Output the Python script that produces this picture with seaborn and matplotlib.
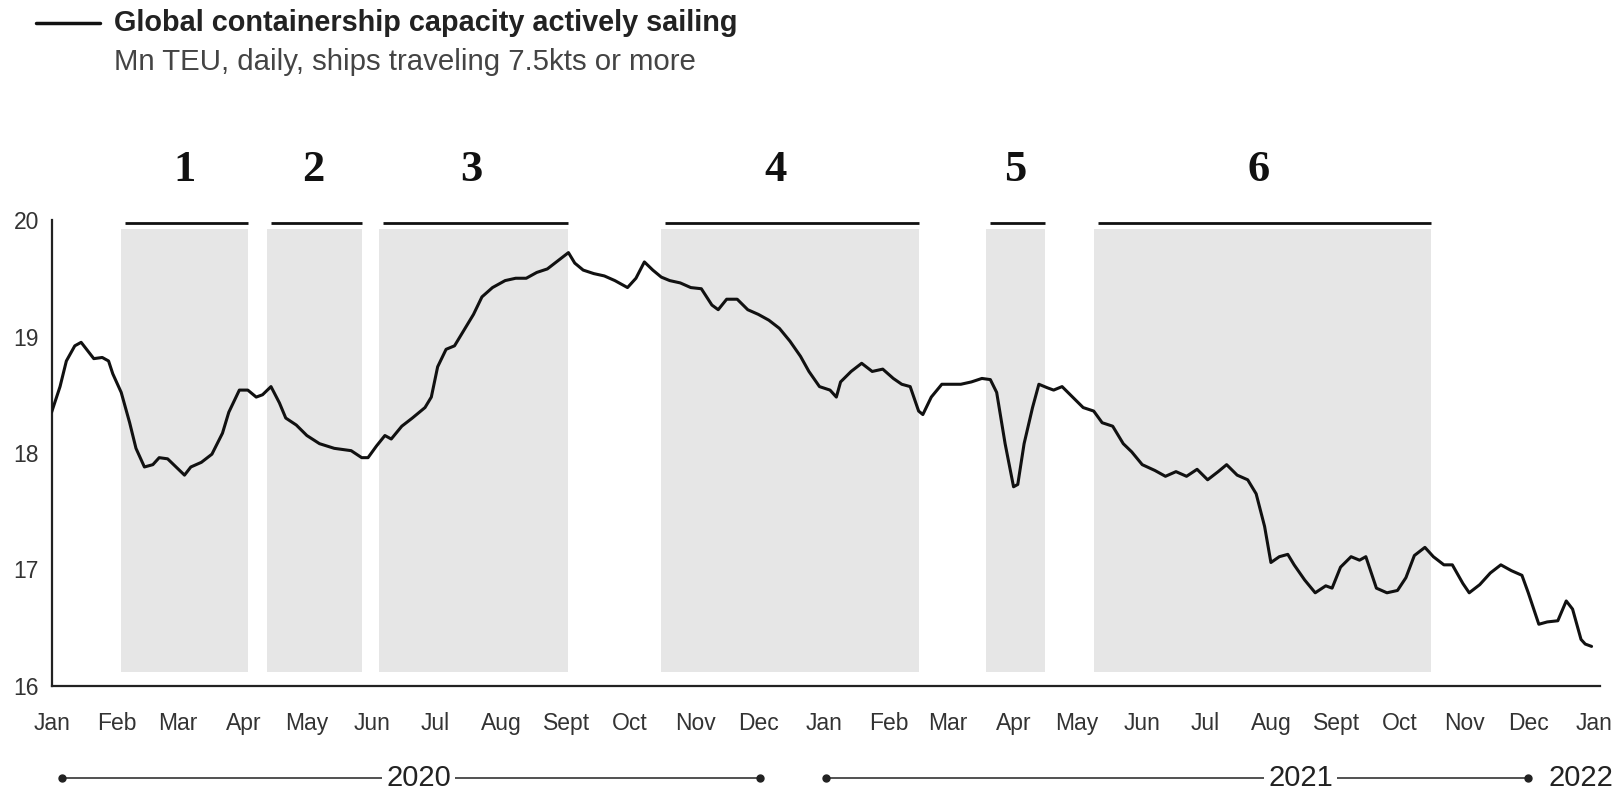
import matplotlib
matplotlib.use("Agg")
import matplotlib.pyplot as plt
import matplotlib.transforms as mtransforms
from matplotlib.lines import Line2D
import numpy as np
import pandas as pd
import seaborn as sns

# ---------------- data ----------------
day_offsets = [0, 4, 7, 11, 14, 17, 20, 24, 27, 29,
               33, 37, 40, 44, 48, 51, 55, 59, 63, 66,
               71, 76, 81, 84, 89, 93, 97, 100, 104, 108,
               111, 116, 121, 127, 134, 142, 147, 150, 154, 158,
               161, 166, 171, 177, 180, 183, 187, 191, 195, 200,
               204, 209, 215, 220, 225, 230, 235, 240, 245, 248,
               252, 257, 262, 267, 273, 277, 281, 285, 289, 293,
               298, 303, 308, 313, 316, 320, 325, 330, 335, 340,
               345, 350, 355, 359, 364, 369, 372, 374, 379, 384,
               389, 394, 399, 403, 407, 411, 413, 417, 422, 426,
               431, 436, 441, 445, 448, 452, 456, 458, 461, 465,
               468, 472, 475, 479, 484, 489, 494, 498, 503, 508,
               512, 517, 523, 528, 533, 538, 543, 548, 553, 557,
               562, 567, 571, 575, 578, 582, 586, 589, 594, 599,
               604, 607, 611, 616, 620, 623, 628, 633, 638, 642,
               646, 651, 655, 660, 664, 669, 672, 677, 682, 687,
               692, 697, 700, 705, 709, 714, 718, 721, 725, 727,
               730]
capacity_mn_teu = [18.35, 18.57, 18.79, 18.92, 18.95, 18.88, 18.81, 18.82, 18.79, 18.68,
                   18.52, 18.26, 18.04, 17.88, 17.90, 17.96, 17.95, 17.88, 17.81, 17.88,
                   17.92, 17.99, 18.17, 18.35, 18.54, 18.54, 18.48, 18.50, 18.57, 18.43,
                   18.30, 18.24, 18.15, 18.08, 18.04, 18.02, 17.96, 17.96, 18.06, 18.15,
                   18.12, 18.23, 18.30, 18.39, 18.48, 18.74, 18.89, 18.92, 19.04, 19.19,
                   19.34, 19.42, 19.48, 19.50, 19.50, 19.55, 19.58, 19.65, 19.72, 19.63,
                   19.57, 19.54, 19.52, 19.48, 19.42, 19.50, 19.64, 19.57, 19.51, 19.48,
                   19.46, 19.42, 19.41, 19.27, 19.23, 19.32, 19.32, 19.23, 19.19, 19.14,
                   19.07, 18.96, 18.83, 18.70, 18.57, 18.54, 18.48, 18.61, 18.70, 18.77,
                   18.70, 18.72, 18.64, 18.59, 18.57, 18.36, 18.33, 18.48, 18.59, 18.59,
                   18.59, 18.61, 18.64, 18.63, 18.52, 18.08, 17.71, 17.73, 18.08, 18.39,
                   18.59, 18.56, 18.54, 18.57, 18.48, 18.39, 18.36, 18.26, 18.23, 18.08,
                   18.01, 17.90, 17.85, 17.80, 17.84, 17.80, 17.86, 17.77, 17.84, 17.90,
                   17.81, 17.77, 17.65, 17.37, 17.06, 17.11, 17.13, 17.04, 16.91, 16.80,
                   16.86, 16.84, 17.02, 17.11, 17.08, 17.11, 16.84, 16.80, 16.82, 16.93,
                   17.12, 17.19, 17.11, 17.04, 17.04, 16.88, 16.80, 16.87, 16.97, 17.04,
                   16.99, 16.95, 16.80, 16.53, 16.55, 16.56, 16.73, 16.66, 16.40, 16.36,
                   16.34]

period_labels = ["1", "2", "3", "4", "5", "6"]
period_starts = ["2020-02-03", "2020-04-12", "2020-06-04", "2020-10-16", "2021-03-19", "2021-05-09"]
period_ends = ["2020-04-03", "2020-05-27", "2020-09-02", "2021-02-15", "2021-04-16", "2021-10-16"]
period_label_dates = ["2020-03-04", "2020-05-04", "2020-07-18", "2020-12-09", "2021-04-02", "2021-07-26"]

month_labels = ["Jan", "Feb", "Mar", "Apr", "May", "Jun", "Jul", "Aug", "Sept", "Oct", "Nov", "Dec",
                "Jan", "Feb", "Mar", "Apr", "May", "Jun", "Jul", "Aug", "Sept", "Oct", "Nov", "Dec",
                "Jan"]
y_ticks = [16, 17, 18, 19, 20]

year_labels = ["2020", "2021", "2022"]
year_label_dates = ["2020-06-23", "2021-08-15", "2021-12-26"]
year_line_spans = [("2020-01-06", "2020-12-02"), ("2021-01-02", "2021-12-01")]

title = "Global containership capacity actively sailing"
subtitle = "Mn TEU, daily, ships traveling 7.5kts or more"

# ---------------- style ----------------
sns.set_theme(style="white")
plt.rcParams['font.family'] = ['Liberation Sans', 'DejaVu Sans']

start = pd.Timestamp("2020-01-01")
df = pd.DataFrame({
    "date": start + pd.to_timedelta(day_offsets, unit="D"),
    "capacity": capacity_mn_teu,
})

W, H = 1617, 792
fig = plt.figure(figsize=(W / 100, H / 100), dpi=100)
fig.patch.set_facecolor("white")
left_px, right_px, top_px, bottom_px = 51.6, 1600, 220, 686
ax = fig.add_axes([left_px / W, 1 - bottom_px / H, (right_px - left_px) / W, (bottom_px - top_px) / H])
ax.set_facecolor("white")

# shaded periods
shade_color = "#e6e6e6"
for s, e in zip(period_starts, period_ends):
    ax.axvspan(pd.Timestamp(s), pd.Timestamp(e), ymin=0.03, ymax=0.98,
               color=shade_color, lw=0, zorder=0)

sns.lineplot(data=df, x="date", y="capacity", ax=ax, color="#111111", linewidth=2.2, zorder=3)

# period bars and numbers
for lab, s, e, d in zip(period_labels, period_starts, period_ends, period_label_dates):
    s, e = pd.Timestamp(s), pd.Timestamp(e)
    ax.plot([s + pd.Timedelta(days=2), e], [19.97, 19.97], color="#111111", lw=2.0,
            solid_capstyle="butt", clip_on=False, zorder=4)
    ax.text(pd.Timestamp(d), 20.43, lab, ha="center", va="center",
            fontsize=32, fontweight="bold", family=["Liberation Serif", "DejaVu Serif"],
            color="#111111", clip_on=False)

ax.set_xlim(start, start + pd.Timedelta(days=734))
ax.set_ylim(16, 20)

month_ticks = pd.date_range("2020-01-01", "2022-01-01", freq="MS")
ax.set_xticks(month_ticks)
ax.set_xticklabels(month_labels)
ax.set_yticks(y_ticks)
ax.set_yticklabels([str(v) for v in y_ticks])
ax.set_xlabel("")
ax.set_ylabel("")
ax.tick_params(axis="x", direction="in", length=6, width=1, color="#333333",
               labelsize=16.5, labelcolor="#333333", pad=19)
ax.tick_params(axis="y", length=0, labelsize=16.5, labelcolor="#333333", pad=9)

for side in ["top", "right"]:
    ax.spines[side].set_visible(False)
for side in ["left", "bottom"]:
    ax.spines[side].set_color("#222222")
    ax.spines[side].set_linewidth(1.6)

# year annotations below the month labels
trans = mtransforms.blended_transform_factory(ax.transData, ax.transAxes)
year_y = -(778 - bottom_px) / (bottom_px - top_px)
for (s, e) in year_line_spans:
    s, e = pd.Timestamp(s), pd.Timestamp(e)
    ax.plot([s, e], [year_y, year_y], transform=trans, color="#333333", lw=1.2, clip_on=False)
    ax.plot([s, e], [year_y, year_y], transform=trans, ls="none", marker="o", ms=5,
            color="#222222", clip_on=False)
for lab, d in zip(year_labels, year_label_dates):
    ax.text(pd.Timestamp(d), year_y, lab, transform=trans, ha="center", va="center",
            fontsize=21, color="#222222", clip_on=False,
            bbox=dict(facecolor="white", edgecolor="none", pad=3))

# title block
fig.text(114 / W, 1 - 23 / H, title, ha="left", va="center", fontsize=20.8,
         fontweight="bold", color="#222222")
fig.text(114 / W, 1 - 62 / H, subtitle, ha="left", va="center", fontsize=21.2,
         color="#444444")
fig.add_artist(Line2D([36 / W, 100 / W], [1 - 23 / H, 1 - 23 / H], color="#111111", lw=2.5))

fig.savefig("out.png", dpi=100, facecolor="white")
